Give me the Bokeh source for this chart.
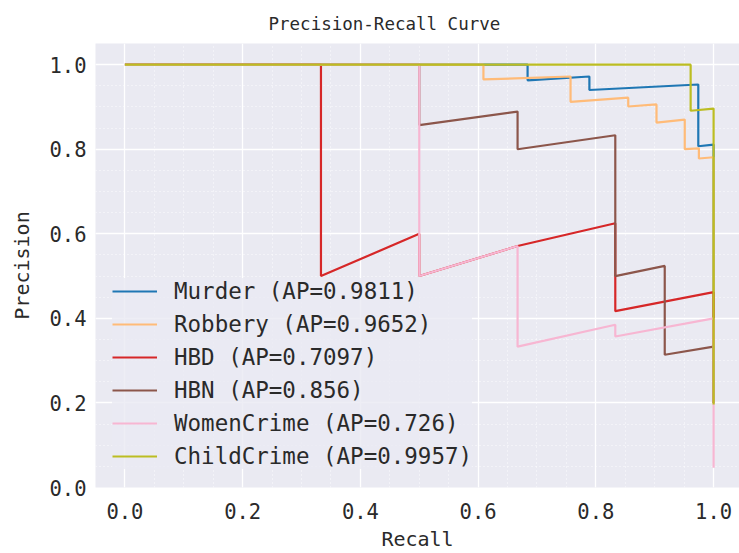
from bokeh.plotting import figure
from bokeh.models import Legend, LegendItem, SingleIntervalTicker, PrintfTickFormatter, Range1d
from bokeh.embed import file_html
from bokeh.resources import INLINE

# ---- data ----
names = ["Murder", "Robbery", "HBD", "HBN", "WomenCrime", "ChildCrime"]
ap_values = ["0.9811", "0.9652", "0.7097", "0.856", "0.726", "0.9957"]

murder_recall = [0, 0.684, 0.684, 0.789, 0.789, 0.974, 0.974, 1.0, 1.0]
murder_precision = [1, 1, 0.963, 0.972, 0.940, 0.953, 0.807, 0.811, 0.20]

robbery_recall = [0, 0.609, 0.609, 0.757, 0.757, 0.855, 0.855, 0.903, 0.903, 0.951, 0.951, 0.975, 0.975, 1.0, 1.0]
robbery_precision = [1, 1, 0.965, 0.972, 0.912, 0.922, 0.901, 0.906, 0.863, 0.870, 0.800, 0.802, 0.778, 0.781, 0.20]

hbd_recall = [0, 0.333, 0.333, 0.5, 0.5, 0.667, 0.833, 0.833, 1.0, 1.0]
hbd_precision = [1, 1, 0.5, 0.6, 0.5, 0.571, 0.625, 0.417, 0.462, 0.20]

hbn_recall = [0, 0.5, 0.5, 0.667, 0.667, 0.833, 0.833, 0.917, 0.917, 1.0, 1.0]
hbn_precision = [1, 1, 0.857, 0.889, 0.800, 0.833, 0.500, 0.524, 0.314, 0.333, 0.20]

women_recall = [0, 0.5, 0.5, 0.667, 0.667, 0.833, 0.833, 1.0, 1.0]
women_precision = [1, 1, 0.5, 0.571, 0.333, 0.385, 0.357, 0.400, 0.047]

child_recall = [0, 0.961, 0.961, 1.0, 1.0]
child_precision = [1, 1, 0.891, 0.896, 0.196]

x_ticks_interval = 0.2
y_ticks_interval = 0.2

recalls = [murder_recall, robbery_recall, hbd_recall, hbn_recall, women_recall, child_recall]
precisions = [murder_precision, robbery_precision, hbd_precision, hbn_precision, women_precision, child_precision]
colors = ["#1f77b4", "#ffbb78", "#d62728", "#8c564b", "#f7b6d2", "#bcbd22"]

FONT = "DejaVu Sans Mono"
TXT = "#2a2a2a"

p = figure(width=739, height=553, output_backend="svg", toolbar_location=None,
           x_range=Range1d(-0.05, 1.044), y_range=Range1d(0.0, 1.05),
           min_border_left=95, min_border_right=0, min_border_top=43, min_border_bottom=65,
           title="Precision-Recall Curve")
p.background_fill_color = "#EAEAF2"
p.border_fill_color = "white"
p.outline_line_color = None

p.title.text_font = FONT
p.title.text_font_size = "17.5px"
p.title.text_font_style = "normal"
p.title.text_color = TXT
p.title.align = "left"
p.title.offset = 173
p.title.standoff = 20

items = []
for name, ap, xs, ys, c in zip(names, ap_values, recalls, precisions, colors):
    r = p.line(xs, ys, line_color=c, line_width=2.2)
    items.append(LegendItem(label=f"{name} (AP={ap})", renderers=[r]))

for ax, interval in ((p.xaxis, x_ticks_interval), (p.yaxis, y_ticks_interval)):
    ax.ticker = SingleIntervalTicker(interval=interval, num_minor_ticks=4)
    ax.formatter = PrintfTickFormatter(format="%.1f")
    ax.axis_line_color = None
    ax.major_tick_line_color = None
    ax.minor_tick_line_color = None
    ax.major_label_text_font = FONT
    ax.major_label_text_font_size = "20.5px"
    ax.major_label_text_color = TXT
    ax.axis_label_text_font = FONT
    ax.axis_label_text_font_size = "20px"
    ax.axis_label_text_font_style = "normal"
    ax.axis_label_text_color = TXT

p.xaxis.axis_label = "Recall"
p.yaxis.axis_label = "Precision"
p.xaxis.major_label_standoff = 9
p.yaxis.major_label_standoff = 3
p.xaxis.axis_label_standoff = 5
p.yaxis.axis_label_standoff = 12

for g in (p.xgrid, p.ygrid):
    g.grid_line_color = "white"
    g.grid_line_width = 1.3
    g.minor_grid_line_color = "white"
    g.minor_grid_line_width = 1.0
    g.minor_grid_line_dash = "1 3"
    g.minor_grid_line_alpha = 0.9

legend = Legend(items=items, location=(17, 18))
legend.label_text_font = FONT
legend.label_text_font_size = "22.5px"
legend.label_text_color = TXT
legend.glyph_width = 45
legend.glyph_height = 20
legend.label_height = 20
legend.label_standoff = 17
legend.spacing = 7
legend.padding = 10
legend.background_fill_color = "#EAEAF2"
legend.background_fill_alpha = 0.8
legend.border_line_color = None
p.add_layout(legend)

open("out.html", "w").write(file_html(p, INLINE))
